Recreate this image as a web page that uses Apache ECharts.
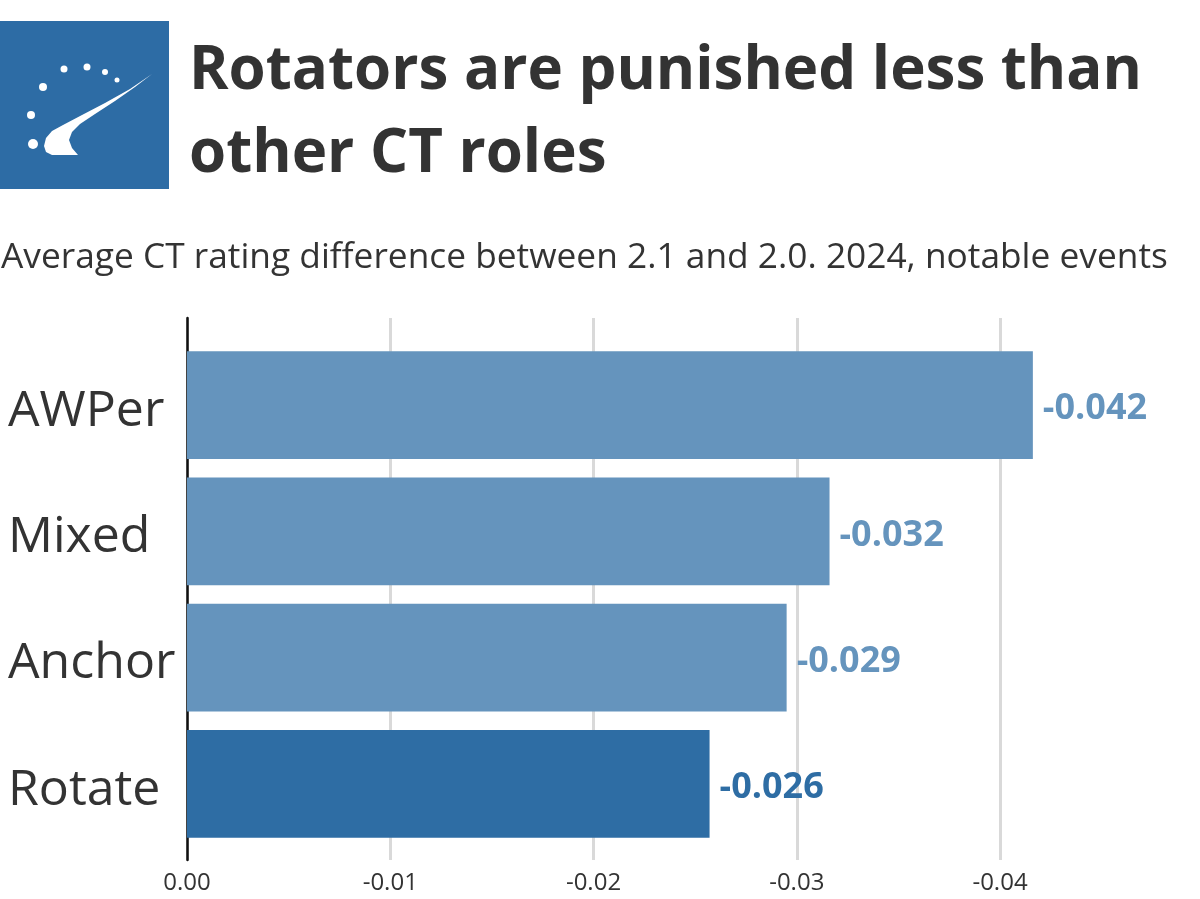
<!DOCTYPE html>
<html>
<head>
<meta charset="utf-8">
<script src="https://cdn.jsdelivr.net/npm/echarts@6/dist/echarts.min.js"></script>
<style>
html,body{margin:0;padding:0;background:#fff;}
#chart{width:1200px;height:899px;}
</style>
</head>
<body>
<div id="chart"></div>
<script>
const titleText = 'Rotators are punished less than\nother CT roles';
const subtitleText = 'Average CT rating difference between 2.1 and 2.0. 2024, notable events';
const categories = ['AWPer', 'Mixed', 'Anchor', 'Rotate'];
const values = [-0.0416, -0.0316, -0.02949, -0.0257];
const barColors = ['#6594bd', '#6594bd', '#6594bd', '#2e6da4'];

const FONT = '"Open Sans", "Noto Sans", sans-serif';
const chart = echarts.init(document.getElementById('chart'), null, {renderer: 'canvas'});

const option = {
  backgroundColor: '#ffffff',
  animation: false,
  textStyle: {fontFamily: FONT},
  title: [
    {
      text: titleText, left: 184, top: 25,
      textStyle: {fontFamily: FONT, fontSize: 60, fontWeight: 'bold', color: '#333333', lineHeight: 83}
    },
    {
      text: subtitleText, left: -4, top: 235,
      textStyle: {fontFamily: FONT, fontSize: 35.3, fontWeight: 'normal', color: '#333333'}
    }
  ],
  graphic: [
    {type: 'rect', shape: {x: 0, y: 21, width: 169, height: 168}, style: {fill: '#2d6ca5'}},
    {type: 'circle', shape: {cx: 33, cy: 144, r: 5}, style: {fill: '#fff'}},
    {type: 'circle', shape: {cx: 31, cy: 115, r: 4}, style: {fill: '#fff'}},
    {type: 'circle', shape: {cx: 43, cy: 87, r: 4}, style: {fill: '#fff'}},
    {type: 'circle', shape: {cx: 64, cy: 69, r: 3.5}, style: {fill: '#fff'}},
    {type: 'circle', shape: {cx: 87, cy: 67, r: 3.5}, style: {fill: '#fff'}},
    {type: 'circle', shape: {cx: 105, cy: 72, r: 3}, style: {fill: '#fff'}},
    {type: 'circle', shape: {cx: 117, cy: 80, r: 2.5}, style: {fill: '#fff'}},
    {type: 'polygon', shape: {points: [
      [152, 74], [130, 89], [105, 103], [82, 115], [63, 125], [52, 131], [46, 138], [44, 146],
      [46, 152], [52, 155], [64, 155], [78, 155], [72, 148], [69, 140], [72, 132], [80, 124],
      [95, 114], [115, 101], [135, 87]
    ]}, style: {fill: '#fff'}}
  ],
  grid: [
    {left: 187, right: 200, top: 318, bottom: 39, containLabel: false},
    {left: 187, right: 98, top: 342, bottom: 52, containLabel: false}
  ],
  xAxis: [
    {
      gridIndex: 0, type: 'value', inverse: true, min: -0.04, max: 0, interval: 0.01,
      axisLine: {show: false}, axisTick: {show: false},
      axisLabel: {
        fontFamily: FONT, fontSize: 24, color: '#333333', margin: 11,
        formatter: function (v) { return Math.abs(v) < 1e-9 ? '0.00' : v.toFixed(2); }
      },
      splitLine: {show: true, lineStyle: {color: '#d9d9d9', width: 3}}
    },
    {
      gridIndex: 1, type: 'value', inverse: true, min: -0.045, max: 0,
      show: false
    }
  ],
  yAxis: [
    {
      gridIndex: 0, type: 'value', min: 0, max: 1,
      axisLine: {show: true, onZero: false, lineStyle: {color: '#111111', width: 2.5}},
      axisTick: {show: false}, axisLabel: {show: false}, splitLine: {show: false}
    },
    {
      gridIndex: 1, type: 'category', data: categories, inverse: true,
      axisLine: {show: false}, axisTick: {show: false}, splitLine: {show: false},
      axisLabel: {
        align: 'left', margin: 179,
        formatter: v => '{a|' + v + '}',
        rich: {a: {fontFamily: FONT, fontSize: 50, color: '#333333', padding: [13, 0, 0, 0]}}
      }
    }
  ],
  series: [
    {
      type: 'bar', xAxisIndex: 1, yAxisIndex: 1,
      barCategoryGap: '14.5%', z: 1,
      data: values.map((v, i) => ({value: v, itemStyle: {color: barColors[i]}, label: {color: barColors[i]}})),
      label: {
        show: true, position: 'right', distance: 10, offset: [0, 4],
        fontFamily: FONT, fontSize: 36, fontWeight: 'bold',
        formatter: p => p.value.toFixed(3)
      }
    }
  ]
};
chart.setOption(option);
</script>
</body>
</html>
